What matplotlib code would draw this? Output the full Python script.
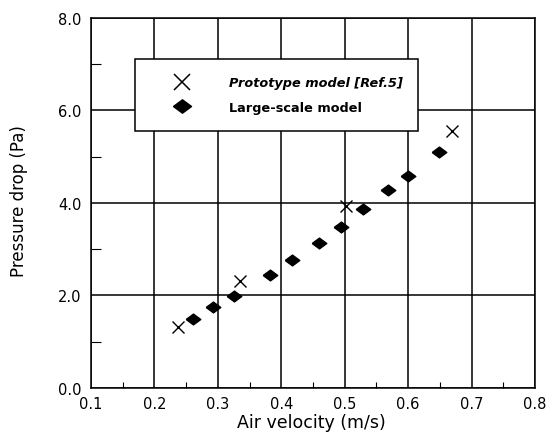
import numpy as np
import matplotlib.pyplot as plt
from matplotlib.ticker import MultipleLocator
from matplotlib.lines import Line2D

plt.rcParams['font.family'] = ['DejaVu Sans']

# Prototype model [Ref.5]
proto_v = [0.237, 0.335, 0.502, 0.669]
proto_dp = [1.32, 2.31, 3.94, 5.56]

# Large-scale model
large_v = [0.261, 0.292, 0.326, 0.382, 0.417, 0.460, 0.494, 0.529, 0.568, 0.600, 0.649]
large_dp = [1.49, 1.75, 1.99, 2.44, 2.77, 3.14, 3.48, 3.87, 4.28, 4.58, 5.10]

labels = ['Prototype model [Ref.5]', 'Large-scale model']

# slightly flattened diamond, like the scanned figure
diamond = [(-1, 0), (0, 0.74), (1, 0), (0, -0.74), (-1, 0)]

fig = plt.figure(figsize=(5.51, 4.35), dpi=100)
ax = fig.add_axes([0.165, 0.106, 0.806, 0.851])

ax.plot(proto_v, proto_dp, 'x', color='black', markersize=8.8, markeredgewidth=1.0)
ax.plot(large_v, large_dp, linestyle='none', marker=diamond, color='black', markersize=10.5)

ax.set_xlim(0.1, 0.8)
ax.set_ylim(0, 8)
ax.xaxis.set_major_locator(MultipleLocator(0.1))
ax.xaxis.set_minor_locator(MultipleLocator(0.05))
ax.yaxis.set_major_locator(MultipleLocator(2))
ax.yaxis.set_minor_locator(MultipleLocator(1))
ax.xaxis.set_major_formatter(plt.FormatStrFormatter('%.1f'))
ax.yaxis.set_major_formatter(plt.FormatStrFormatter('%.1f'))
ax.tick_params(which='both', direction='in', labelsize=10.5)
ax.tick_params(which='major', length=0)
ax.tick_params(axis='y', which='major', pad=7)
ax.tick_params(axis='x', which='major', pad=6)
ax.tick_params(axis='x', which='minor', length=4, width=0.8)
ax.tick_params(axis='y', which='minor', length=7, width=0.8)
ax.grid(True, which='major', color='black', linewidth=1.1)
for s in ax.spines.values():
    s.set_linewidth(1.1)

ax.set_xlabel('Air velocity (m/s)', fontsize=12.5)
ax.set_ylabel('Pressure drop (Pa)', fontsize=12)
ax.xaxis.set_label_coords(0.496, -0.068)
ax.yaxis.set_label_coords(-0.142, 0.508)

handles = [
    Line2D([], [], linestyle='none', marker='x', color='black', markersize=11, markeredgewidth=1.1),
    Line2D([], [], linestyle='none', marker=diamond, color='black', markersize=13),
]
leg = ax.legend(handles, labels, loc='upper left',
                bbox_to_anchor=(0.099, 0.692, 0.637, 0.197),
                mode='expand', borderaxespad=0, fancybox=False, framealpha=1,
                edgecolor='black', borderpad=1.35, labelspacing=0.9,
                handlelength=4.6, handletextpad=1.3,
                prop={'size': 9.3, 'weight': 'bold'})
leg.get_frame().set_linewidth(1.1)
leg.set_zorder(5)
leg.get_texts()[0].set_fontstyle('italic')

fig.savefig('out.png', dpi=100)
